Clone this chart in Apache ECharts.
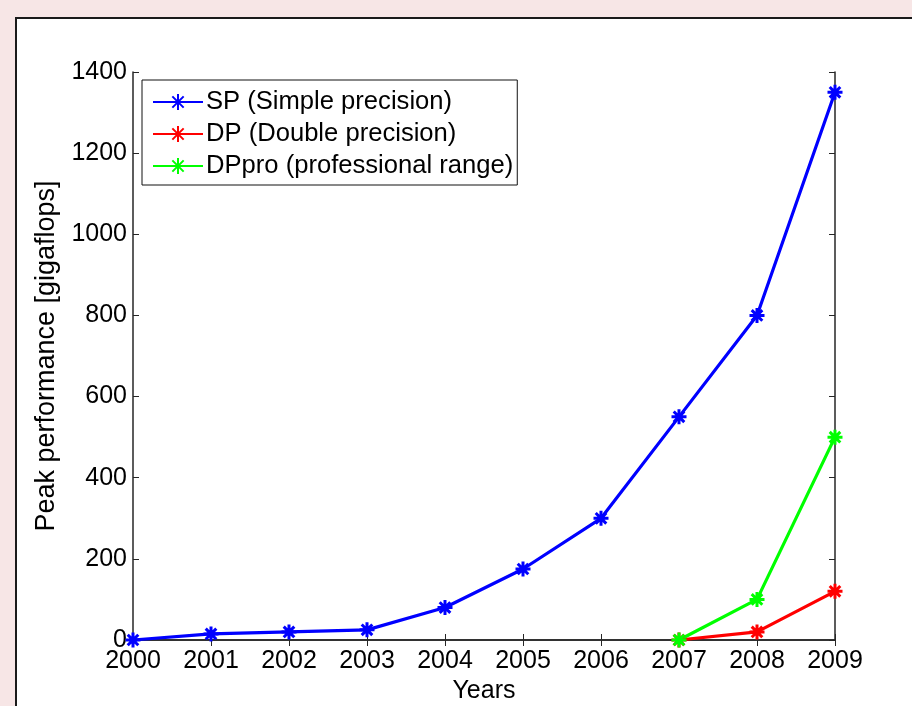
<!DOCTYPE html>
<html><head><meta charset="utf-8">
<script src="https://cdn.jsdelivr.net/npm/echarts@6/dist/echarts.min.js"></script>
<style>html,body{margin:0;padding:0;background:#f7e6e6;}#c{width:912px;height:706px;}</style>
</head><body><div id="c"></div>
<script>
const years = ['2000','2001','2002','2003','2004','2005','2006','2007','2008','2009'];
const spValues = [0, 15, 20, 25, 80, 175, 300, 550, 800, 1350];
const dpValues = [null, null, null, null, null, null, null, 0, 20, 120];
const dpproValues = [null, null, null, null, null, null, null, 0, 100, 500];
const yTicks = [0, 200, 400, 600, 800, 1000, 1200, 1400];

const FONT = 'Liberation Sans, Arial, sans-serif';
const star = 'path://M0,-10L0,10M-10,0L10,0M-7.07,-7.07L7.07,7.07M-7.07,7.07L7.07,-7.07';
const chart = echarts.init(document.getElementById('c'));
function mk(name, data, color) {
  return {
    name: name, type: 'line', data: data, xAxisIndex: 0, yAxisIndex: 0,
    symbol: star, symbolSize: 15, showAllSymbol: true,
    lineStyle: {color: color, width: 3.2},
    itemStyle: {color: color, borderColor: color, borderWidth: 3},
    emphasis: {disabled: true}, animation: false, connectNulls: false
  };
}
const axisLineStyle = {color: '#262626', width: 1.5};
chart.setOption({
  backgroundColor: '#f7e6e6',
  animation: false,
  graphic: [{type: 'rect', z: -10, shape: {x: 16, y: 18, width: 1000, height: 1000},
    style: {fill: '#ffffff', stroke: '#1a1a1a', lineWidth: 2}}],
  grid: {left: 133, right: 77, top: 72, bottom: 66, containLabel: false, outerBoundsMode: 'none'},
  legend: {
    orient: 'vertical', left: 142, top: 80, itemWidth: 50, itemHeight: 20, itemGap: 6,
    padding: [9, 4, 6, 10], backgroundColor: '#fff', borderColor: '#111', borderWidth: 1,
    textStyle: {fontFamily: FONT, fontSize: 25.6, color: '#000', padding: [0,0,0,-2]},
    data: ['SP (Simple precision)', 'DP (Double precision)', 'DPpro (professional range)']
  },
  xAxis: [
    {type: 'category', data: years, boundaryGap: false, position: 'bottom',
     axisLine: {lineStyle: axisLineStyle}, axisTick: {inside: true, length: 6, lineStyle: {color: '#262626'}},
     axisLabel: {fontFamily: FONT, fontSize: 25, color: '#000', margin: 9, interval: 0},
     name: 'Years', nameLocation: 'middle', nameGap: 33,
     nameTextStyle: {fontFamily: FONT, fontSize: 25, color: '#000'}, splitLine: {show: false}},
    {type: 'category', data: years, boundaryGap: false, position: 'top',
     axisLine: {lineStyle: axisLineStyle}, axisTick: {inside: true, length: 6, lineStyle: {color: '#262626'}},
     axisLabel: {show: false}, splitLine: {show: false}}
  ],
  yAxis: [
    {type: 'value', min: yTicks[0], max: yTicks[yTicks.length-1], interval: 200, position: 'left',
     axisLine: {show: true, lineStyle: axisLineStyle}, axisTick: {show: true, inside: true, length: 6, lineStyle: {color: '#262626'}},
     axisLabel: {fontFamily: FONT, fontSize: 25, color: '#000', margin: 6, formatter: v => String(v)},
     splitLine: {show: false},
     name: 'Peak performance [gigaflops]', nameLocation: 'middle', nameGap: 60,
     nameTextStyle: {fontFamily: FONT, fontSize: 27, color: '#000'}},
    {type: 'value', min: yTicks[0], max: yTicks[yTicks.length-1], interval: 200, position: 'right',
     axisLine: {show: true, lineStyle: axisLineStyle}, axisTick: {show: true, inside: true, length: 6, lineStyle: {color: '#262626'}},
     axisLabel: {show: false}, splitLine: {show: false}}
  ],
  series: [
    mk('SP (Simple precision)', spValues, '#0000ff'),
    mk('DP (Double precision)', dpValues, '#ff0000'),
    mk('DPpro (professional range)', dpproValues, '#00ff00')
  ]
});
</script></body></html>
